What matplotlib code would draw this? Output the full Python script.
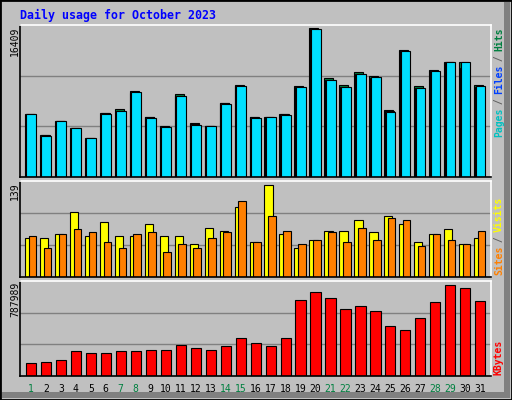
import matplotlib

matplotlib.use("Agg")
import matplotlib.pyplot as plt
import numpy as np
from matplotlib.patches import Rectangle

days = list(range(1, 32))
weekend_days = [1, 7, 8, 14, 15, 21, 22, 28, 29]

hits = [6979, 4640, 6163, 5420, 4306, 7091, 7536, 9430, 6645, 5643, 9095, 5977, 5643, 8204, 10098, 6645,
        6645, 6979, 9986, 16409, 10877, 10098, 11546, 11100, 7425, 13996, 9986, 11768, 12659, 12659, 10098]
files = [6940, 4600, 6130, 5380, 4290, 7000, 7300, 9300, 6560, 5560, 8900, 5800, 5600, 8120, 10000, 6560,
         6620, 6900, 9880, 16300, 10720, 9880, 11350, 10950, 7230, 13870, 9760, 11650, 12640, 12000, 9880]
pages = [6979, 4530, 6163, 5420, 4306, 6979, 7313, 9318, 6533, 5531, 8872, 5754, 5643, 8093, 9986, 6533,
         6645, 6868, 9875, 16297, 10654, 9875, 11323, 10988, 7202, 13884, 9764, 11657, 12659, 12659, 9986]
visits = [59, 58, 64, 98, 61, 83, 62, 61, 80, 61, 62, 49, 74, 70, 106, 52,
          139, 64, 44, 56, 70, 70, 86, 68, 92, 80, 53, 65, 73, 49, 59]
sites = [61, 43, 64, 73, 67, 52, 43, 64, 67, 38, 49, 43, 59, 67, 115, 52,
         92, 70, 50, 56, 67, 53, 74, 56, 89, 86, 46, 64, 55, 50, 70]
kbytes = [108886, 117482, 134675, 212041, 194848, 194848, 212041, 212041, 220638, 220638, 263619, 237830,
          220638, 255022, 323792, 280812, 255022, 323792, 659045, 727815, 676237, 581678, 607467, 564485,
          435543, 392562, 504311, 641852, 787989, 762200, 650448]

BG = "#c0c0c0"
W, H = 512, 400
XL, XR = 20, 491


def add_panel(fig, top, bottom):
    ax = fig.add_axes([XL / W, 1 - bottom / H, (XR - XL) / W, (bottom - top) / H])
    ax.set_facecolor(BG)
    ax.set_xlim(0.27, 31.73)
    ax.set_xticks([])
    ax.set_yticks([])
    for s in ("left", "bottom"):
        ax.spines[s].set_color("black")
    for s in ("top", "right"):
        ax.spines[s].set_color("white")
    for s in ax.spines.values():
        s.set_linewidth(1.2)
    return ax


def vlabel(fig, x_px, y_bottom_px, parts, size=7, step=5.4):
    y = y_bottom_px
    for text, color in parts:
        fig.text(x_px / W, 1 - y / H, text, rotation=90, color=color, fontsize=size,
                 family="DejaVu Sans Mono", weight="bold", ha="center", va="bottom")
        y -= step * len(text)


fig = plt.figure(figsize=(5.12, 4.0), dpi=100, facecolor=BG)
fig.patches.append(Rectangle((0, 0), 1, 1, transform=fig.transFigure, fill=False,
                             edgecolor="black", linewidth=2))
fig.patches.append(Rectangle((504 / W, 2 / H), 6 / W, 1 - 4 / H, transform=fig.transFigure,
                             facecolor="#808080", edgecolor="none"))
fig.patches.append(Rectangle((2 / W, 2 / H), 1 - 4 / W, 6 / H, transform=fig.transFigure,
                             facecolor="#808080", edgecolor="none"))

fig.text(20 / W, 1 - 15 / H, "Daily usage for October 2023", color="#0000ff", fontsize=8.4,
         weight="bold", family="DejaVu Sans Mono", va="center")

x = np.array(days)
ec = dict(edgecolor="black", linewidth=0.8, align="edge")

# hits / files / pages
ax1 = add_panel(fig, 25, 177)
top1 = 16409 * 151 / 148
ax1.set_ylim(0, top1)
for g in (top1 / 3, 2 * top1 / 3):
    ax1.axhline(g, color="#808080", linewidth=1, zorder=0)
ax1.bar(x - 0.4, hits, 0.6, color="#008040", **ec)
ax1.bar(x - 0.35, files, 0.6, color="#0040ff", **ec)
ax1.bar(x - 0.3, pages, 0.65, color="#00e0ff", **ec)

# visits / sites
ax2 = add_panel(fig, 181, 277)
top2 = 139 * 288 / 277
ax2.set_ylim(0, top2)
for g in (top2 / 3, 2 * top2 / 3):
    ax2.axhline(g, color="#808080", linewidth=1, zorder=0)
ax2.bar(x - 0.4, visits, 0.55, color="#ffff00", **ec)
ax2.bar(x - 0.15, sites, 0.5, color="#ff8000", **ec)

# kbytes
ax3 = add_panel(fig, 281, 376)
top3 = 787989 * 286 / 275
ax3.set_ylim(0, top3)
for g in (top3 / 3, 2 * top3 / 3):
    ax3.axhline(g, color="#808080", linewidth=1, zorder=0)
ax3.bar(x - 0.33, kbytes, 0.68, color="#ff0000", **ec)

for d in days:
    px = XL + (d - 0.27) / (31.73 - 0.27) * (XR - XL)
    fig.text(px / W, 1 - 389 / H, str(d), ha="center", va="center", fontsize=7,
             family="DejaVu Sans Mono", color="#008040" if d in weekend_days else "black")

for val, top_px in ((16409, 27), (139, 182), (787989, 282)):
    fig.text(15 / W, 1 - top_px / H, str(val), rotation=90, ha="center", va="top",
             fontsize=7, family="DejaVu Sans Mono", color="black")

vlabel(fig, 499, 137, [("Pages", "#00c0c0"), (" / ", "#606060"), ("Files", "#0040ff"),
                       (" / ", "#606060"), ("Hits", "#008040")])
vlabel(fig, 499, 275, [("Sites", "#ff8000"), (" / ", "#606060"), ("Visits", "#ffff00")])
vlabel(fig, 499, 375, [("KBytes", "#ff0000")])

fig.savefig("out.png", dpi=100, facecolor=BG)
